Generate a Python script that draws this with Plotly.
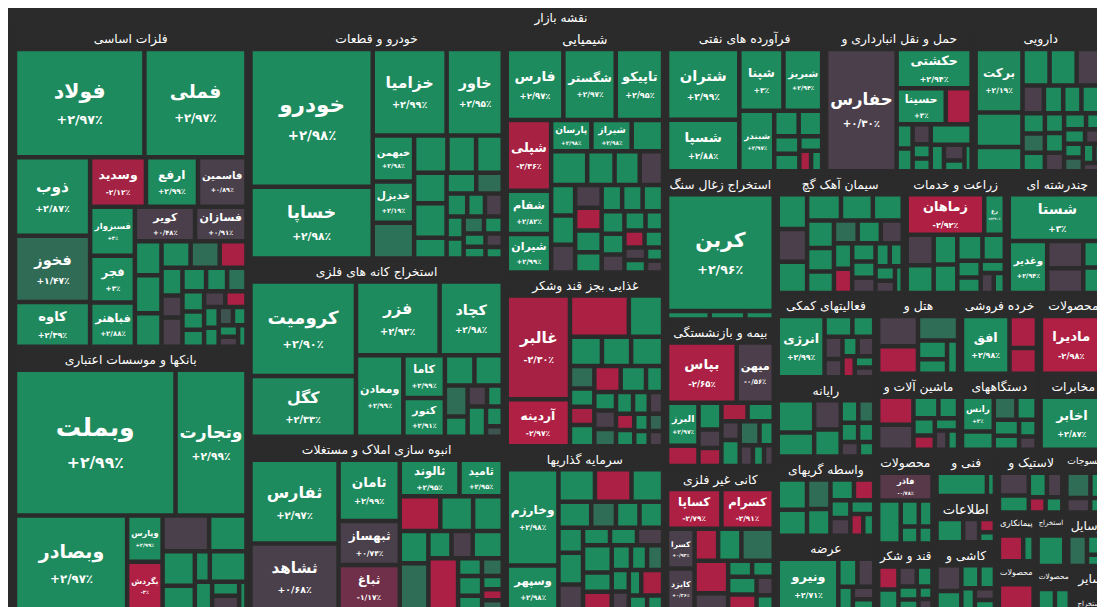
import math
import plotly.graph_objects as go
from plotly.colors import sample_colorscale

# tile size (approx. area) and daily change in percent
# entries with name None are the small unlabeled tiles
metals = [("فولاد", 12400, 2.97), ("فملی", 9700, 2.97), ("ذوب", 5050, 2.87),
          ("فخوز", 4230, 1.47), ("کاوه", 2780, 2.39), ("وسدید", 2270, -2.12),
          ("ارفع", 2100, 2.99), ("فاسمین", 1950, 0.89), ("فسبزوار", 1760, 3.0),
          ("فجر", 1670, 3.0), ("فباهنر", 1580, 2.88), ("کویر", 1650, 0.48),
          ("فسازان", 1390, 0.91), (None, 660, 2.9),
          (None, 750, 2.9), (None, 650, 2.8), (None, 550, 2.7), (None, 550, 1.5),
          (None, 500, -2.5), (None, 400, 2.9), (None, 300, 0.5),
          (None, 420, 0.4), (None, 380, 2.9), (None, 330, 2.8), (None, 300, 1.6),
          (None, 280, 2.9), (None, 250, 2.9), (None, 230, 2.9), (None, 200, 0.4),
          (None, 200, -2.6), (None, 180, 2.9), (None, 160, 2.9), (None, 150, 1.2),
          (None, 140, 2.9), (None, 120, 2.9), (None, 100, 0.3), (None, 90, 2.9)]

banks = [("وبملت", 22475, 2.99), ("وتجارت", 9700, 2.99), ("وبصادر", 9950, 2.97),
         ("وپارس", 1380, 2.99), ("بگردش", 1440, -3.0),
         (None, 1400, 0.6), (None, 1100, 2.9), (None, 900, 2.9), (None, 600, 2.9),
         (None, 320, 2.9), (None, 900, 2.9), (None, 350, 2.9), (None, 260, 2.9),
         (None, 260, 0.5), (None, 120, 2.9)]

autos = [("خودرو", 14360, 2.98), ("خساپا", 7340, 2.98), ("خزامیا", 5260, 2.99),
         ("خاور", 3940, 2.95), ("خبهمن", 1440, 2.98), ("خدیزل", 1280, 2.19),
         (None, 1100, 1.6), (None, 900, 2.9), (None, 760, 2.9), (None, 700, 2.9),
         (None, 700, 2.9), (None, 800, 2.9), (None, 450, 2.9), (None, 400, 2.9),
         (None, 350, 1.5), (None, 300, 2.9), (None, 250, 2.9), (None, 250, 0.4),
         (None, 220, 2.9), (None, 200, 2.9), (None, 200, 1.6), (None, 180, 2.9),
         (None, 160, 2.9), (None, 140, 2.9), (None, 120, 0.5), (None, 100, 2.9)]

mining = [("کرومیت", 8730, 2.90), ("کگل", 5530, 2.33), ("فزر", 5300, 2.92),
          ("کچاد", 3940, 2.98), ("ومعادن", 3240, 2.99), ("کاما", 1400, 2.99),
          ("کنور", 1260, 2.91),
          (None, 650, 2.9), (None, 620, 2.9), (None, 500, 1.5), (None, 300, 2.9),
          (None, 260, 0.4), (None, 200, 2.9), (None, 380, 2.9), (None, 200, 2.9),
          (None, 90, 1.2)]

building = [("ثفارس", 6160, 2.97), ("ثشاهد", 4850, 0.68), ("ثامان", 3020, 2.99),
            ("ثبهساز", 2120, 0.74), ("ثباغ", 2170, -1.17), ("ثالوند", 1680, 2.95),
            ("ثامید", 1180, 2.95),
            (None, 1050, -2.8), (None, 830, 2.9), (None, 740, 2.9), (None, 650, 2.9),
            (None, 990, 1.5), (None, 420, 2.9), (None, 380, 0.4), (None, 570, 2.9),
            (None, 1150, -2.6), (None, 260, 2.9), (None, 220, 1.5), (None, 300, 2.9),
            (None, 200, 2.9), (None, 150, 2.9), (None, 120, -2.5), (None, 100, 1.4)]

chemical = [("فارس", 3280, 2.97), ("شگستر", 3020, 2.97), ("تاپیکو", 2710, 2.95),
            ("شپلی", 2520, -2.36), ("شفام", 1480, 2.82), ("شیران", 1300, 2.99),
            ("پارسان", 925, 2.98), ("شیراز", 925, 2.98), (None, 700, 2.9),
            (None, 900, 2.9), (None, 660, 2.9), (None, 600, 2.9),
            (None, 550, 0.5), (None, 500, 2.9), (None, 480, 2.9), (None, 450, 0.6),
            (None, 400, 0.4), (None, 400, -2.7), (None, 380, 2.9), (None, 350, 2.9),
            (None, 350, 2.9), (None, 350, 2.9), (None, 350, 2.9), (None, 330, 2.9),
            (None, 300, 2.9), (None, 250, 0.3), (None, 250, 2.9), (None, 200, 2.9),
            (None, 200, -2.5), (None, 180, 2.9), (None, 150, 0.4), (None, 150, 2.9),
            (None, 120, 2.9), (None, 100, 0.4)]

food = [("غالبر", 5000, -2.30), ("آردینه", 2150, -2.97),
        (None, 1740, -2.7), (None, 960, 2.9), (None, 600, 2.9), (None, 540, 2.9),
        (None, 600, 2.9), (None, 320, 1.5), (None, 250, 2.9), (None, 250, -2.3),
        (None, 300, 2.9), (None, 420, -2.6), (None, 400, 2.9), (None, 250, 2.9),
        (None, 220, 2.9), (None, 220, 0.4), (None, 200, 1.5), (None, 200, 2.9),
        (None, 180, 2.9), (None, 160, 0.4), (None, 150, -2.5), (None, 150, 2.9),
        (None, 120, 2.9), (None, 120, 1.4), (None, 100, 2.9), (None, 100, 0.4)]

invest = [("وخارزم", 3480, 2.98), ("وسپهر", 1520, 2.98),
          (None, 730, 2.9), (None, 730, -2.6), (None, 620, 2.9), (None, 500, 2.9),
          (None, 360, 1.5), (None, 340, 2.9), (None, 340, 2.9), (None, 340, 2.9),
          (None, 450, 2.9), (None, 350, 0.4), (None, 250, 2.9), (None, 250, 2.9),
          (None, 240, 0.5), (None, 450, 2.9), (None, 300, 2.9), (None, 280, -2.5),
          (None, 250, 2.9), (None, 200, 2.9), (None, 200, 1.5), (None, 180, 2.9),
          (None, 150, 0.4), (None, 150, 2.9), (None, 300, -2.4), (None, 120, 2.9),
          (None, 100, 2.9)]

refinery = [("شتران", 4290, 2.99), ("شسپا", 3055, 2.88), ("شپنا", 2200, 3.0),
            ("شبریز", 1910, 2.94), ("شبندر", 1660, 2.97),
            (None, 420, 2.9), (None, 400, 2.9), (None, 280, 2.9), (None, 280, 2.9),
            (None, 200, 2.9), (None, 130, -2.4), (None, 120, 2.9)]

transport = [("حفارس", 7670, 0.30), ("حکشتی", 2475, 2.94), ("حسینا", 1430, 3.0),
             (None, 700, -2.6), (None, 250, 2.9), (None, 230, 2.9), (None, 230, 0.4),
             (None, 150, 2.9), (None, 130, 2.9), (None, 620, 2.9), (None, 220, 2.9),
             (None, 200, 0.4), (None, 120, 2.9), (None, 100, 2.9)]

pharma = [("برکت", 2090, 2.19),
          (None, 1080, 2.9), (None, 720, 2.9), (None, 620, 2.9), (None, 620, 2.9),
          (None, 680, 0.4), (None, 340, 0.4), (None, 300, 2.9), (None, 280, 2.9),
          (None, 400, 2.9), (None, 250, 2.9), (None, 230, 1.5), (None, 220, 2.9),
          (None, 200, 2.9), (None, 200, 2.9), (None, 180, 0.4), (None, 180, 2.9),
          (None, 160, 2.9), (None, 150, 2.9), (None, 150, 0.4), (None, 120, 2.9),
          (None, 120, 1.4), (None, 100, 2.9), (None, 100, 2.9), (None, 80, 0.4)]

coal = [("کربن", 12150, 2.96), (None, 250, 2.9), (None, 200, 2.9), (None, 150, 2.9)]

insurance = [("بپاس", 3380, -2.65), ("میهن", 1720, -0.56), ("البرز", 990, 2.97),
             (None, 420, -2.6), (None, 400, 2.9), (None, 260, 0.4), (None, 250, -2.5),
             (None, 300, -2.4), (None, 300, 2.9), (None, 200, 0.5), (None, 300, 2.9),
             (None, 300, 1.5), (None, 200, 2.9), (None, 150, 0.4), (None, 120, 2.9),
             (None, 100, 0.4)]

nonmetal = [("کساپا", 1800, -2.79), ("کسرام", 1730, -2.91), ("کسرا", 850, 0.93),
            ("کایزد", 890, 0.26),
            (None, 560, -2.7), (None, 550, 2.9), (None, 800, 1.5), (None, 850, -2.6),
            (None, 400, 0.4), (None, 250, 2.9), (None, 220, 2.9), (None, 350, 2.9),
            (None, 300, -2.5), (None, 200, 0.5), (None, 150, 2.9)]

cement = [(None, 700, 2.9), (None, 650, 0.4), (None, 620, 2.9), (None, 600, 2.9),
          (None, 560, 2.9), (None, 520, 2.9), (None, 480, 2.9), (None, 400, 2.9),
          (None, 360, 2.9), (None, 330, 1.5), (None, 320, 2.9), (None, 300, 0.4),
          (None, 280, 2.9), (None, 260, -2.6), (None, 250, 2.9), (None, 220, 2.9),
          (None, 200, 0.4), (None, 180, 2.9), (None, 160, 2.9), (None, 150, 2.9),
          (None, 120, 0.4), (None, 100, 2.9)]

farming = [("زماهان", 2630, -2.92), ("رغ", 610, 2.90),
           (None, 600, 0.4), (None, 540, 2.9), (None, 500, 2.9), (None, 480, 2.9),
           (None, 460, 2.9), (None, 400, 2.9), (None, 250, 2.9), (None, 230, 2.9),
           (None, 180, 2.9), (None, 150, 0.4), (None, 120, 2.9)]

multi = [("شستا", 3740, 3.0), ("وغدیر", 1540, 2.94),
         (None, 700, 0.4), (None, 630, 0.4), (None, 400, 2.9), (None, 380, 2.9)]

support = [("انرژی", 2400, 2.99),
           (None, 400, 2.9), (None, 300, 2.9), (None, 260, 0.4), (None, 200, 0.4),
           (None, 180, 2.9), (None, 200, 0.4), (None, 150, -2.5), (None, 120, 2.9),
           (None, 100, 0.4)]

computer = [(None, 880, 2.9), (None, 630, 2.9), (None, 550, 0.4), (None, 500, 2.9),
            (None, 250, 2.9), (None, 220, 1.5), (None, 200, 2.9), (None, 180, 2.9),
            (None, 150, 0.4), (None, 120, 2.9)]

brokers = [(None, 600, 2.9), (None, 500, 2.9), (None, 450, 1.5), (None, 400, 2.9),
           (None, 300, 2.9), (None, 250, -2.6), (None, 200, 2.9), (None, 200, 0.4),
           (None, 180, 2.9), (None, 150, -2.5), (None, 120, 2.9)]

utilities = [("ونیرو", 2500, 2.71),
             (None, 350, 2.9), (None, 300, 0.4), (None, 200, 2.9), (None, 150, 0.4),
             (None, 120, 2.9)]

hotels = [(None, 1000, 0.4), (None, 900, -2.6), (None, 800, 1.5), (None, 400, 2.9),
          (None, 300, 2.9), (None, 250, 2.9)]

retail = [("افق", 2450, 2.98), (None, 700, -2.6), (None, 550, -2.5)]

wood = [("مادیرا", 3020, -2.98), (None, 150, 2.9)]

machinery = [(None, 800, -2.6), (None, 700, 0.4), (None, 400, 2.9), (None, 300, 2.9),
             (None, 250, 2.9), (None, 200, -2.5), (None, 180, 2.9), (None, 150, 0.4),
             (None, 120, 2.9)]

devices = [("رانس", 950, 3.0),
           (None, 450, 2.9), (None, 400, 1.5), (None, 350, 2.9), (None, 300, 2.9),
           (None, 250, 2.9), (None, 200, 2.9), (None, 150, 0.4)]

telecom = [("اخابر", 2590, 2.87), (None, 100, 2.9)]

products2 = [("فاذر", 1300, -0.78),
             (None, 800, 2.9), (None, 350, 2.9), (None, 250, 2.9), (None, 200, 2.9),
             (None, 150, 2.9)]

sugar = [(None, 400, -2.6), (None, 350, 2.9), (None, 300, 0.4), (None, 250, 2.9),
         (None, 200, 2.9), (None, 150, 2.9), (None, 120, 2.9), (None, 100, 0.4)]

technical = [(None, 1300, 2.9), (None, 150, 2.9)]
information = [(None, 550, 2.9), (None, 300, 0.4), (None, 150, -2.5), (None, 100, 2.9)]
tiles = [(None, 500, 0.4), (None, 350, 2.9), (None, 300, 2.9), (None, 250, 2.9),
         (None, 200, 2.9), (None, 150, 0.4), (None, 120, 2.9)]
rubber = [(None, 500, 0.4), (None, 350, 2.9), (None, 300, 2.9), (None, 250, 0.4),
          (None, 150, -2.5), (None, 150, 2.9)]
textiles = [(None, 500, 1.5), (None, 300, 2.9), (None, 250, 0.4), (None, 150, 2.9)]
contractors = [(None, 550, -2.6), (None, 200, 2.9)]
products3 = [(None, 600, -2.6)]
extraction2 = [(None, 450, 2.9)]
vehicles = [(None, 500, 1.5), (None, 300, 2.9), (None, 150, 2.9)]
products4 = [(None, 300, 2.9), (None, 250, 2.9)]
other = [(None, 200, 0.4), (None, 100, 2.9)]
extraction3 = [(None, 150, 0.4)]

root_label = "نقشه بازار"
sector_labels = ["فلزات اساسی", "بانکها و موسسات اعتباری", "خودرو و قطعات",
                 "استخراج کانه های فلزی", "انبوه سازی املاک و مستغلات", "شیمیایی",
                 "غذایی بجز قند وشکر", "سرمایه گذاریها", "فرآورده های نفتی",
                 "حمل و نقل انبارداری و", "دارویی", "استخراج زغال سنگ",
                 "بیمه و بازنشستگی", "کانی غیر فلزی", "سیمان آهک گچ",
                 "زراعت و خدمات", "چندرشته ای", "فعالیتهای کمکی", "رایانه",
                 "واسطه گریهای", "عرضه", "هتل و", "خرده فروشی", "محصولات",
                 "ماشین آلات و", "دستگاههای", "مخابرات", "محصولات", "قند و شکر",
                 "فنی و", "اطلاعات", "کاشی و", "لاستیک و", "منسوجات", "پیمانکاری",
                 "محصولات", "استخراج", "وسایل", "محصولات", "سایر", "استخراج"]
# area of each sector block on the map (header included)
sector_area = [75900, 62300, 59900, 45900, 44600, 39700, 28000, 26400, 23200,
               21800, 19600, 16500, 16300, 16000, 15800, 12500, 12400, 8500, 8000,
               8000, 7500, 6800, 6400, 5600, 6400, 6000, 5300, 5500, 3900, 2900,
               2900, 4250, 4250, 2750, 1900, 1900, 1650, 2250, 1600, 1000, 600]
sector_items = [metals, banks, autos, mining, building, chemical, food, invest,
                refinery, transport, pharma, coal, insurance, nonmetal, cement,
                farming, multi, support, computer, brokers, utilities, hotels,
                retail, wood, machinery, devices, telecom, products2, sugar,
                technical, information, tiles, rubber, textiles, contractors,
                products3, extraction2, vehicles, products4, other, extraction3]

BG = "#2b2b2b"
GAP = 3.5
change_scale = [[0.0, "#b01f44"], [0.17, "#a22243"], [0.31, "#6e3049"],
                [0.40, "#4c3e4b"], [0.66, "#4a404b"], [0.745, "#306b56"],
                [0.83, "#1f875c"], [1.0, "#1e8b5e"]]

fa_digits = str.maketrans("0123456789", "۰۱۲۳۴۵۶۷۸۹")


def fmt_change(p):
    sign = "+" if p >= 0 else "-"
    a = abs(p)
    txt = f"{a:.0f}" if a == int(a) else f"{a:.2f}"
    return "\u200e" + sign + txt.replace(".", "/").translate(fa_digits) + "٪"


ids, labels, parents, values, colors = [], [], [], [], []
texts, templates, sizes = [], [], []

ids.append("root")
labels.append(root_label)
parents.append("")
values.append(0)
colors.append(BG)
texts.append("")
templates.append("<b>%{label}</b>")
sizes.append(13)

for i, (sec, items, area) in enumerate(zip(sector_labels, sector_items, sector_area)):
    sid = f"s{i}"
    ids.append(sid)
    labels.append(sec)
    parents.append("root")
    values.append(0)
    colors.append(BG)
    texts.append("")
    templates.append("<b>%{label}</b>")
    sizes.append(14)
    # measured tile area plus the gap drawn around it
    cell = [(math.sqrt(it[1]) + GAP) ** 2 for it in items]
    k = area / sum(cell)
    for j, ((name, size, pct), c) in enumerate(zip(items, cell)):
        ids.append(f"{sid}-{j}")
        labels.append(name if name else " ")
        parents.append(sid)
        values.append(c * k)
        t = min(max((pct + 3) / 6, 0), 1)
        colors.append(sample_colorscale(change_scale, [t])[0])
        texts.append(fmt_change(pct))
        if name:
            fs = 6.5 + 0.125 * math.sqrt(size)
            ps = round(fs * 0.62, 1)
            templates.append(f"<b>%{{label}}</b><br><span style='font-size:{ps}px'>"
                             f"<b>%{{text}}</b></span>")
            sizes.append(round(fs, 1))
        else:
            templates.append("")
            sizes.append(10)

fig = go.Figure(go.Treemap(
    ids=ids,
    labels=labels,
    parents=parents,
    values=values,
    text=texts,
    branchvalues="remainder",
    sort=False,
    texttemplate=templates,
    textposition="middle center",
    textfont=dict(family="DejaVu Sans", size=sizes, color="#ffffff"),
    outsidetextfont=dict(family="DejaVu Sans", size=13, color="#ffffff"),
    marker=dict(colors=colors, line=dict(color=BG, width=2.5),
                pad=dict(t=21, l=2, r=2, b=2)),
    tiling=dict(packing="squarify", squarifyratio=1, pad=2),
    pathbar=dict(visible=False),
    hoverinfo="label+text",
))

fig.update_layout(
    width=1105, height=607,
    paper_bgcolor=BG,
    plot_bgcolor=BG,
    margin=dict(l=4, r=4, t=0, b=2),
    font=dict(family="DejaVu Sans", color="#ffffff"),
)

fig.write_html("out.html")
